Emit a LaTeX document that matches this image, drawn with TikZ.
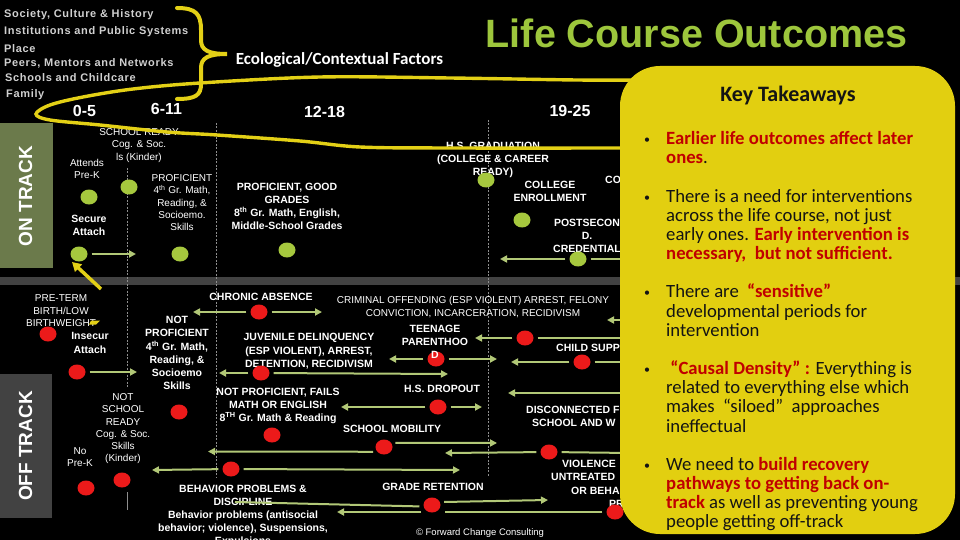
\documentclass[tikz,border=0pt]{standalone}
\usepackage{fontspec}
\setmainfont{Liberation Sans}
\newfontfamily\calfont{Carlito}
\newfontfamily\ctxfont[LetterSpace=6]{Liberation Sans}
\usetikzlibrary{arrows.meta,shapes.geometric}
\definecolor{yel}{HTML}{E3D016}
\definecolor{boxyel}{HTML}{E2CF10}
\definecolor{dgreen}{HTML}{A6C83E}
\definecolor{agreen}{HTML}{B2C877}
\definecolor{dred}{HTML}{EC1A1A}
\definecolor{olive}{HTML}{6B7A4B}
\definecolor{band}{HTML}{424242}
\definecolor{ltgray}{HTML}{D0D0D0}
\definecolor{vgray}{HTML}{8E8E8E}
\definecolor{titlegreen}{HTML}{9DC63C}
\definecolor{kred}{HTML}{C00000}
\definecolor{kblack}{HTML}{141414}
\tikzset{
 gdot/.style={ellipse, fill=dgreen, minimum width=17pt, minimum height=15pt, inner sep=0pt},
 rdot/.style={ellipse, fill=dred, minimum width=17pt, minimum height=15pt, inner sep=0pt},
 lr/.style={text=white, align=center, inner sep=0pt, font=\fontsize{10}{12.2}\selectfont},
 lb/.style={text=white, align=center, inner sep=0pt, font=\bfseries\fontsize{10.5}{13.2}\selectfont},
 arr/.style={draw=agreen, line width=2pt, shorten <=4pt, -{Triangle[length=7pt,width=7pt]}},
 ln/.style={draw=agreen, line width=2pt, shorten <=4pt},
 vline/.style={draw=vgray, line width=0.8pt, dash pattern=on 2pt off 1.5pt},
 ctx/.style={text=ltgray, anchor=west, inner sep=0pt, font=\ctxfont\bfseries\fontsize{11}{13}\selectfont},
 age/.style={text=white, inner sep=0pt, font=\bfseries\fontsize{16}{18}\selectfont},
 kt/.style={anchor=base west, inner sep=0pt, text=kblack, font=\calfont\fontsize{18.7}{19}\selectfont},
 kbul/.style={anchor=base west, inner sep=0pt, text=kblack, font=\calfont\fontsize{12}{12}\selectfont},
 trk/.style={text=white, rotate=90, inner sep=0pt, font=\bfseries\fontsize{19}{21}\selectfont},
}
\newcommand{\kr}[1]{{\color{kred}\bfseries #1}}
\begin{document}
\begin{tikzpicture}[x=1pt,y=-1pt]
\fill[black] (0,0) rectangle (960,540);
\useasboundingbox (0,0) rectangle (960,540);
% band and side boxes
\fill[band] (0,277) rectangle (960,285);
\fill[olive] (0,123) rectangle (53,268);
\fill[band] (0,374) rectangle (52,518);
\node[trk] (on) at (25.5,196) {ON TRACK};
\node[trk] (off) at (25.5,446) {OFF TRACK};
% vertical guides
\draw[vline] (127,168) -- (127,387);
\draw[draw=vgray, line width=0.8pt] (127,492) -- (127,510);
\draw[vline] (216,123) -- (216,477);
\draw[vline] (488,120) -- (488,477);
% context list
\node[ctx] (c1) at (4,15) {Society, Culture \& History};
\node[ctx] (c2) at (4,32) {Institutions and Public Systems};
\node[ctx] (c3) at (4,49) {Place};
\node[ctx] (c4) at (4,63) {Peers, Mentors and Networks};
\node[ctx] (c5) at (5,78) {Schools and Childcare};
\node[ctx] (c6) at (6,95) {Family};
\draw[yel, line width=4pt, line cap=round] (177,8) .. controls (196,8) and (201,14) .. (201,30) -- (201,40) .. controls (201,50) and (208,54) .. (227,54) .. controls (208,54) and (201,58) .. (201,68) -- (201,84) .. controls (201,95) and (196,99) .. (177,99);
\node[text=white, inner sep=0pt, font=\calfont\bfseries\fontsize{17}{19}\selectfont] (eco) at (339.5,60) {Ecological/Contextual Factors};
\node[text=titlegreen, anchor=base, inner sep=0pt, font=\bfseries\fontsize{39.5}{44}\selectfont] (title) at (696.5,48) {Life Course Outcomes};
% ages
\node[age] (a1) at (84.5,111) {0-5};
\node[age] (a2) at (166.5,109) {6-11};
\node[age] (a3) at (324.5,111.5) {12-18};
\node[age] (a4) at (570,110.5) {19-25};
% on-track labels
\node[lr] (lPreK) at (87,169) {Attends\\Pre-K};
\node[lr] (lSR) at (139,145.5) {SCHOOL READY\\Cog. \& Soc.\\ls (Kinder)};
\node[lr] (lP4) at (182,202.6) {PROFICIENT\\4\textsuperscript{th} Gr. Math,\\Reading, \&\\Socioemo.\\Skills};
\node[lb] (lP8) at (287,206.5) {PROFICIENT, GOOD\\GRADES\\8\textsuperscript{th} Gr. Math, English,\\Middle-School Grades};
\node[lb] (lSA) at (89,225.5) {Secure\\Attach};
\node[lb] (lHS) at (493,159.7) {H.S. GRADUATION\\(COLLEGE \& CAREER\\READY)};
\node[lb] (lCE) at (550,191.5) {COLLEGE\\ENROLLMENT};
\node[lb, anchor=west] (lCO) at (605,180) {CO};
\node[lb] (lPS) at (587,236) {POSTSECON\\D.\\CREDENTIAL};
% off-track labels
\node[lr] (lPT) at (61,310.7) {PRE-TERM\\BIRTH/LOW\\BIRTHWEIGHT};
\fill[yel] (91,320.5) -- (100,320.5) -- (96,324.5) -- (89,324.5) -- cycle;
\node[lb] (lIA) at (90,343) {Insecur\\Attach};
\node[lb] (lNP4) at (177,353) {NOT\\PROFICIENT\\4\textsuperscript{th} Gr. Math,\\Reading, \&\\Socioemo\\Skills};
\node[lr] (lNSR) at (123,428.7) {NOT\\SCHOOL\\READY\\Cog. \& Soc.\\Skills\\(Kinder)};
\node[lr] (lNoPK) at (80,457) {No\\Pre-K};
\node[lb] (lCA) at (261,297) {CHRONIC ABSENCE};
\node[lr] (lCR) at (473,307) {CRIMINAL OFFENDING (ESP VIOLENT) ARREST, FELONY\\CONVICTION, INCARCERATION, RECIDIVISM};
\node[lb] (lJD) at (309,351.3) {JUVENILE DELINQUENCY\\(ESP VIOLENT), ARREST,\\DETENTION, RECIDIVISM};
\node[lb, anchor=west] (lCS) at (556,348) {CHILD SUPP};
\node[lb] (lHSD) at (442,389) {H.S. DROPOUT};
\node[lb] (lNP8) at (278,405.7) {NOT PROFICIENT, FAILS\\MATH OR ENGLISH\\8\textsuperscript{TH} Gr. Math \& Reading};
\node[lb] (lSM) at (392,429) {SCHOOL MOBILITY};
\node[lb, anchor=west] (lDC1) at (526,410) {DISCONNECTED F};
\node[lb, anchor=west] (lDC2) at (532,423) {SCHOOL AND W};
\node[lb] (lBP) at (243,516) {BEHAVIOR PROBLEMS \&\\DISCIPLINE\\Behavior problems (antisocial\\behavior; violence), Suspensions,\\Expulsions};
\node[lb] (lGR) at (433,487) {GRADE RETENTION};
\node[lb, anchor=west] (lV1) at (562,464) {VIOLENCE};
\node[lb, anchor=west] (lV2) at (551,477) {UNTREATED};
\node[lb, anchor=west] (lV3) at (571,491) {OR BEHA};
\node[lb, anchor=west] (lV4) at (609,504) {PR};
\node[lr, font=\fontsize{9.5}{11}\selectfont] (lFC) at (480,533) {\textcopyright{} Forward Change Consulting};
% dots
\node[gdot] (gPreK) at (89,197) {};
\node[gdot] (gSR) at (129,187) {};
\node[gdot] (gSA) at (79,254) {};
\node[gdot] (gP4) at (180,254) {};
\node[gdot] (gP8) at (287,250) {};
\node[gdot] (gHS) at (486,180) {};
\node[gdot] (gCE) at (522,220) {};
\node[gdot] (gPS) at (578,259) {};
\node[rdot] (rPT) at (48,334) {};
\node[rdot] (rIA) at (77,372) {};
\node[rdot] (rNP4) at (179,412) {};
\node[rdot] (rNSR) at (122,480) {};
\node[rdot] (rNoPK) at (86,488) {};
\node[rdot] (rCA) at (259,312) {};
\node[rdot] (rJD) at (261,373) {};
\node[rdot] (rTP) at (436,359) {};
\node[rdot] (rCR) at (525,338) {};
\node[rdot] (rCS) at (582,362) {};
\node[rdot] (rHSD) at (438,407) {};
\node[rdot] (rNP8) at (272,435) {};
\node[rdot] (rSM) at (384,447) {};
\node[rdot] (rDC) at (549,452) {};
\node[rdot] (rBP) at (231,469) {};
\node[rdot] (rGR) at (432,505) {};
\node[rdot] (rVI) at (615,512) {};
% arrow end coordinates
\coordinate (aSA) at (136,254);
\coordinate (aPSl) at (500,259);
\coordinate (aPSr) at (630,259);
\coordinate (aIA) at (137,372);
\coordinate (aCAl) at (193,312);
\coordinate (aCAr) at (322,312);
\coordinate (aJDl) at (219,373);
\coordinate (aJDr) at (448,374);
\coordinate (aTPl) at (389,359);
\coordinate (aTPr) at (497,359);
\coordinate (aCRl) at (475,338);
\coordinate (aCRr) at (630,338);
\coordinate (b1s) at (630,320);
\coordinate (b1e) at (607,320);
\coordinate (aCSl) at (511,362);
\coordinate (aCSr) at (630,362);
\coordinate (aHSDl) at (341,407);
\coordinate (aHSDr) at (482,407);
\coordinate (b2s) at (630,393);
\coordinate (b2e) at (508,393);
\coordinate (aSMl) at (208,451.5);
\coordinate (aSMr) at (497,443);
\coordinate (aDCl) at (445,453);
\coordinate (aDCr) at (630,453);
\coordinate (aBPl) at (152,470);
\coordinate (aBPr) at (460,470);
\coordinate (aGRl) at (235,502);
\coordinate (aGRr) at (548,500);
\coordinate (v1) at (445,512);
\coordinate (v2) at (421,512);
\coordinate (v3) at (337,512);
% arrows
\draw[arr] (gSA) -- (aSA);
\draw[arr] (gPS) -- (aPSl);
\draw[ln] (gPS) -- (aPSr);
\draw[arr] (rIA) -- (aIA);
\draw[arr] (rCA) -- (aCAl);
\draw[arr] (rCA) -- (aCAr);
\draw[arr] (rJD) -- (aJDl);
\draw[arr] (rJD) -- (aJDr);
\draw[arr] (rTP) -- (aTPl);
\draw[arr] (rTP) -- (aTPr);
\draw[arr] (rCR) -- (aCRl);
\draw[ln] (rCR) -- (aCRr);
\draw[arr, shorten <=0pt] (b1s) -- (b1e);
\draw[arr] (rCS) -- (aCSl);
\draw[ln] (rCS) -- (aCSr);
\draw[arr] (rHSD) -- (aHSDl);
\draw[arr] (rHSD) -- (aHSDr);
\draw[arr, shorten <=0pt] (b2s) -- (b2e);
\draw[arr] (rSM.215) -- (aSMl);
\draw[arr] (rSM.30) -- (aSMr);
\draw[arr] (rDC) -- (aDCl);
\draw[ln] (rDC) -- (aDCr);
\draw[arr] (rBP) -- (aBPl);
\draw[arr] (rBP) -- (aBPr);
\draw[ln] (rGR.190) -- (aGRl);
\draw[arr] (rGR.20) -- (aGRr);
\draw[ln] (rVI) -- (v1);
\draw[arr, shorten <=0pt] (v2) -- (v3);
% label drawn over its dot
\node[lb] (lTP) at (435,342) {TEENAGE\\PARENTHOO\\D};
% yellow life-course loop
\draw[yel, line width=3.4pt, line cap=round] plot[smooth, tension=0.55] coordinates {(635,80) (577,80) (450,78) (320,77) (200,83) (133,89) (83,97) (50,105) (36,114) (50,120) (100,125) (167,132) (217,135) (300,141) (360,147) (450,148) (635,148)};
\coordinate (yaS) at (101,289);
\coordinate (yaE) at (72,262);
\draw[yel, line width=3.5pt, -{Triangle[length=9pt,width=10pt]}] (yaS) -- (yaE);
% key takeaways
\fill[boxyel, rounded corners=40pt] (620,66) rectangle (955,534);
\node[anchor=base, inner sep=0pt, text=kblack, font=\calfont\bfseries\fontsize{22}{24}\selectfont] (ktitle) at (788,101.5) {Key Takeaways};
\foreach \yy in {144.5,202,297.9,374.5,470.3} { \node[kbul] at (644,\yy-1) {\textbullet}; }
\node[kt] (k0) at (666,144.5) {\kr{Earlier life outcomes affect later}};
\node[kt] (k1) at (666,163.5) {\kr{ones}.};
\node[kt] (k3) at (666,202) {There is a need for interventions};
\node[kt] (k4) at (666,221.2) {across the life course, not just};
\node[kt] (k5) at (666,240.4) {early ones. \kr{Early intervention is}};
\node[kt] (k6) at (666,259.6) {\kr{necessary,\ \ but not sufficient.}};
\node[kt] (k8) at (666,297.9) {There are \ \kr{“sensitive”}};
\node[kt] (k9) at (666,317) {developmental periods for};
\node[kt] (k10) at (666,336.2) {intervention};
\node[kt] (k12) at (666,374.5) {\ \kr{“Causal Density”\ :} Everything is};
\node[kt] (k13) at (666,393.7) {related to everything else which};
\node[kt] (k14) at (666,412.8) {makes \ “siloed” \ approaches};
\node[kt] (k15) at (666,432) {ineffectual};
\node[kt] (k17) at (666,470.3) {We need to \kr{build recovery}};
\node[kt] (k18) at (666,489.5) {\kr{pathways to getting back on-}};
\node[kt] (k19) at (666,508.6) {\kr{track} as well as preventing young};
\node[kt] (k20) at (666,527.8) {people getting off-track};
\end{tikzpicture}
\end{document}
